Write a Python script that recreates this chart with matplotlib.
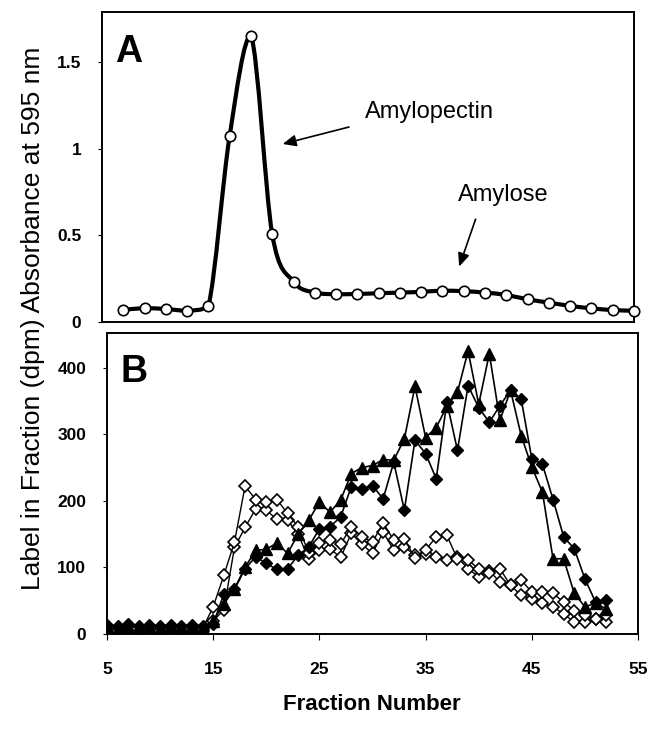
import numpy as np
import matplotlib.pyplot as plt
from matplotlib.path import Path
from matplotlib.patches import PathPatch

plt.rcParams['font.family'] = ['Liberation Sans', 'DejaVu Sans']

# Panel A: absorbance at 595 nm (odd fractions 7..55)
frac_a = list(range(7, 56, 2))
absorb = [0.07, 0.08, 0.075, 0.065, 0.09, 1.076, 1.654, 0.507, 0.233, 0.17,
          0.16, 0.162, 0.166, 0.17, 0.174, 0.181, 0.178, 0.17, 0.156, 0.131,
          0.112, 0.093, 0.079, 0.069, 0.065]

# Panel B: label per fraction (dpm), fractions 5..52
frac_b = list(range(5, 53))
tri = [10, 8, 12, 9, 10, 8, 10, 9, 10, 9, 20, 45, 68, 100, 126, 127, 137, 121,
       150, 171, 198, 183, 201, 241, 250, 253, 262, 261, 293, 372, 295, 310, 342,
       363, 425, 345, 421, 321, 366, 298, 251, 213, 113, 113, 61, 41, 46, 38]
dia_filled = [14, 12, 15, 12, 14, 12, 14, 12, 14, 12, 15, 60, 67, 98, 116, 106,
              97, 98, 118, 131, 158, 161, 176, 221, 218, 223, 203, 258, 186, 291,
              271, 233, 348, 276, 373, 340, 318, 343, 366, 353, 263, 255, 202, 146,
              128, 83, 48, 51]
dia_open1 = [5, 4, 5, 3, 5, 4, 5, 3, 5, 8, 41, 88, 138, 222, 202, 198, 202, 181,
             161, 122, 136, 141, 135, 161, 146, 138, 167, 141, 143, 114, 126, 146,
             148, 113, 111, 98, 91, 98, 73, 81, 63, 63, 61, 48, 35, 28, 23, 28]
dia_open2 = [3, 2, 3, 2, 3, 2, 3, 2, 3, 5, 20, 36, 130, 160, 188, 186, 172, 171,
             150, 112, 126, 128, 115, 151, 135, 121, 153, 126, 131, 118, 120, 116,
             111, 115, 98, 86, 95, 78, 73, 58, 53, 46, 41, 30, 18, 18, 23, 18]


def smooth_path(x, y):
    # smoothed line as cubic bezier through the data points,
    # control points kept inside each segment's y-range (no overshoot)
    x = np.asarray(x, float)
    y = np.asarray(y, float)
    px = np.concatenate([[x[0]], x, [x[-1]]])
    py = np.concatenate([[y[0]], y, [y[-1]]])
    verts = [(x[0], y[0])]
    codes = [Path.MOVETO]
    for i in range(1, len(x)):
        lo, hi = min(py[i], py[i + 1]), max(py[i], py[i + 1])
        c1y = np.clip(py[i] + (py[i + 1] - py[i - 1]) / 6, lo, hi)
        c2y = np.clip(py[i + 1] - (py[i + 2] - py[i]) / 6, lo, hi)
        c1 = (px[i] + (px[i + 1] - px[i - 1]) / 6, c1y)
        c2 = (px[i + 1] - (px[i + 2] - px[i]) / 6, c2y)
        verts += [c1, c2, (px[i + 1], py[i + 1])]
        codes += [Path.CURVE4] * 3
    return Path(verts, codes)


fig = plt.figure(figsize=(6.61, 7.34), dpi=100)
ax_a = fig.add_axes([0.1543, 0.5613, 0.8048, 0.4223])
ax_b = fig.add_axes([0.1619, 0.1362, 0.8033, 0.4101])

# panel A
ax_a.add_patch(PathPatch(smooth_path(frac_a, absorb), fill=False, lw=3, color='black', zorder=2))
ax_a.plot(frac_a, absorb, ls='none', marker='o', ms=7.5, mfc='white', mec='black', mew=1.2,
          zorder=3, clip_on=False)
ax_a.set_xlim(5, 55)
ax_a.set_ylim(0, 1.79)
ax_a.set_xticks([])
ax_a.set_yticks([0, 0.5, 1, 1.5])
ax_a.set_yticklabels(['0', '0.5', '1', '1.5'])
ax_a.text(0.025, 0.93, 'A', transform=ax_a.transAxes, fontsize=27, fontweight='bold', va='top')

ax_a.annotate('', xy=(21.73, 1.024), xytext=(28.47, 1.13),
              arrowprops=dict(arrowstyle='-|>,head_length=0.8,head_width=0.35', color='black', lw=1.2))
ax_a.text(29.72, 1.215, 'Amylopectin', fontsize=17, va='center')
ax_a.annotate('', xy=(38.49, 0.305), xytext=(40.2, 0.609),
              arrowprops=dict(arrowstyle='-|>,head_length=0.8,head_width=0.35', color='black', lw=1.2))
ax_a.text(38.46, 0.735, 'Amylose', fontsize=17, va='center')

# panel B
ax_b.plot(frac_b, dia_open2, color='black', lw=1, marker='D', ms=6.5, mfc='white', mec='black', mew=1.2)
ax_b.plot(frac_b, dia_open1, color='black', lw=1, marker='D', ms=6.5, mfc='white', mec='black', mew=1.2)
ax_b.plot(frac_b, dia_filled, color='black', lw=1.2, marker='D', ms=6.5, mfc='black', mec='black')
ax_b.plot(frac_b, tri, color='black', lw=1.2, marker='^', ms=8.5, mfc='black', mec='black')
ax_b.set_xlim(5, 55)
ax_b.set_ylim(0, 452)
ax_b.set_xticks([5, 15, 25, 35, 45, 55])
ax_b.set_yticks([0, 100, 200, 300, 400])
ax_b.text(0.025, 0.93, 'B', transform=ax_b.transAxes, fontsize=27, fontweight='bold', va='top')

for ax in (ax_a, ax_b):
    for s in ax.spines.values():
        s.set_linewidth(1.4)
    ax.tick_params(axis='y', direction='out', length=3, width=0.8, pad=12, labelsize=12.5)
    for lab in ax.get_yticklabels():
        lab.set_fontweight('bold')
ax_b.tick_params(axis='x', direction='out', length=4, width=0.8, pad=16, labelsize=12.5)
for lab in ax_b.get_xticklabels():
    lab.set_fontweight('bold')

fig.text(0.05, 0.567, 'Label in Fraction (dpm) Absorbance at 595 nm', rotation=90,
         fontsize=19, ha='center', va='center')
fig.text(0.563, 0.04, 'Fraction Number', fontsize=16, fontweight='bold', ha='center', va='center')

fig.savefig('out.png', dpi=100)
